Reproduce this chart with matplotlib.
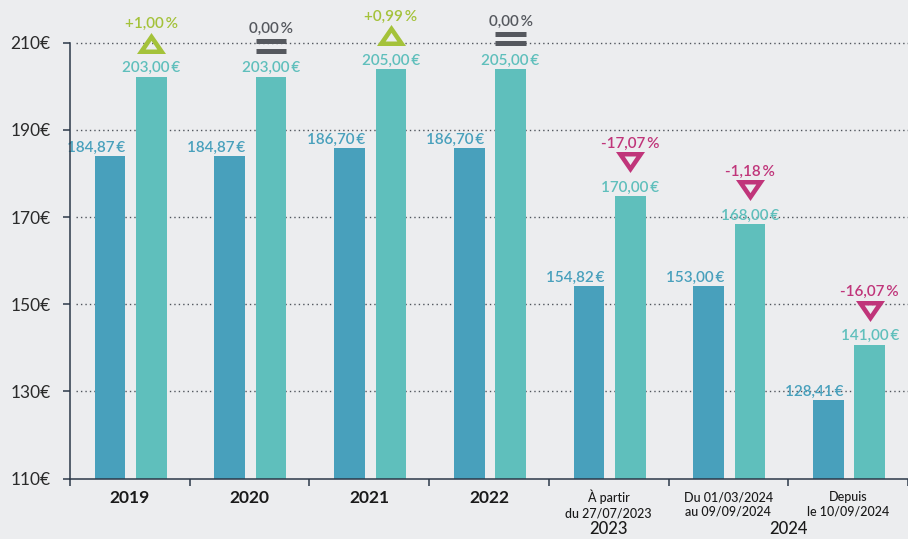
import matplotlib
matplotlib.use('Agg')
import matplotlib.pyplot as plt
from matplotlib.path import Path
from matplotlib.transforms import offset_copy, blended_transform_factory
import numpy as np

# ---------------- data ----------------
group_labels = ['2019', '2020', '2021', '2022',
                'À partir\ndu 27/07/2023', 'Du 01/03/2024\nau 09/09/2024', 'Depuis\nle 10/09/2024']
group_bold = [True, True, True, True, False, False, False]
span_labels = ['2023', '2024']
span_centers = [4.0, 5.5]

dark_values = [184.87, 184.87, 186.70, 186.70, 154.82, 153.00, 128.41]
light_values = [203.00, 203.00, 205.00, 205.00, 170.00, 168.00, 141.00]
# bar heights as drawn in the reference
dark_heights = [184.0, 184.0, 185.8, 185.8, 154.2, 154.2, 128.0]
light_heights = [202.2, 202.2, 204.0, 204.0, 174.8, 168.4, 140.7]
pct_changes = [1.00, 0.00, 0.99, 0.00, -17.07, -1.18, -16.07]

y_ticks = [110, 130, 150, 170, 190, 210]
y_tick_labels = ['110€', '130€', '150€', '170€', '190€', '210€']

# ---------------- style ----------------
BG = '#ecedef'
DARK = '#48a0bc'
LIGHT = '#5fbfbc'
GREEN = '#a4c23a'
MAGENTA = '#c0357a'
GREY = '#55585e'
AXIS = '#2b3848'
FONT = ['Lato', 'DejaVu Sans']

plt.rcParams['font.family'] = FONT

fig = plt.figure(figsize=(9.08, 5.39), dpi=100, facecolor=BG)
ax = fig.add_axes([70 / 908, (539 - 478.7) / 539, 1 - 70 / 908, 478.7 / 539])
ax.set_facecolor(BG)

x = np.arange(len(group_labels))
bw = 31 / 121
dx_dark = -0.5 + 40.5 / 121
dx_light = -0.5 + 82.3 / 121

ax.set_xlim(-0.5, -0.5 + 838 / 121)
ax.set_ylim(110, 210 + 42.7 / 4.36)

# grid lines
for yv in y_ticks[1:]:
    ax.plot([-0.45, 7], [yv, yv], color='#50555d', lw=1.0, ls=(0, (1, 2.2)), zorder=1)

ax.bar(x + dx_dark, dark_heights, width=bw, bottom=0, color=DARK, zorder=2)
ax.bar(x + dx_light, light_heights, width=bw, bottom=0, color=LIGHT, zorder=2)


def fmt(v):
    return f'{v:.2f}'.replace('.', ',') + '\u2009€'


def fmt_pct(p):
    s = f'{abs(p):.2f}'.replace('.', ',') + '\u2009%'
    if p > 0:
        return '+' + s
    if p < 0:
        return '-' + s
    return s


for i in x:
    ax.annotate(fmt(dark_values[i]), (i + dx_dark + bw / 2, dark_heights[i]),
                xytext=(0, 4.5), textcoords='offset pixels', ha='right', va='baseline',
                fontsize=11, color=DARK, fontweight='semibold', zorder=5)
    ax.annotate(fmt(light_values[i]), (i + dx_light, light_heights[i]),
                xytext=(0, 4.5), textcoords='offset pixels', ha='center', va='baseline',
                fontsize=11, color=LIGHT, fontweight='semibold', zorder=5)

# triangle marker paths (with hole)
def tri_path(up=True):
    outer = [(-14.5, -10.5), (14.5, -10.5), (0, 10.5)]
    inner = [(0, 2.6), (5.8, -6.0), (-5.8, -6.0)]
    if not up:
        outer = [(vx, -vy) for vx, vy in outer]
        inner = [(vx, -vy) for vx, vy in inner]
        outer = outer[::-1]
        inner = inner[::-1]
    verts = outer + [outer[0]] + inner + [inner[0]]
    codes = [Path.MOVETO, Path.LINETO, Path.LINETO, Path.CLOSEPOLY] * 2
    return Path(verts, codes)

up_path = tri_path(True)
down_path = tri_path(False)
msize = 29 * 0.72

for i in x:
    p = pct_changes[i]
    xc = i + dx_light
    h = light_heights[i]
    if p == 0:
        col = GREY
        for off in (35.3, 25.8):
            tr = offset_copy(ax.transData, fig=fig, x=0, y=off, units='dots')
            ax.plot([xc - bw / 2, xc + bw / 2], [h, h], color=GREY, lw=5 * 0.72,
                    solid_capstyle='butt', transform=tr, zorder=5, clip_on=False)
        txt_off = 43.5
    else:
        col = GREEN if p > 0 else MAGENTA
        tr = offset_copy(ax.transData, fig=fig, x=0, y=34, units='dots')
        ax.plot([xc], [h], marker=up_path if p > 0 else down_path, markersize=msize,
                color=col, markeredgewidth=0, transform=tr, zorder=5, clip_on=False)
        txt_off = 48.5
    ax.annotate(fmt_pct(p), (xc, h), xytext=(0, txt_off), textcoords='offset pixels',
                ha='center', va='baseline', fontsize=11, color=col, fontweight='semibold',
                zorder=5, annotation_clip=False)

# axes styling
for s in ['top', 'right']:
    ax.spines[s].set_visible(False)
for s in ['left', 'bottom']:
    ax.spines[s].set_color(AXIS)
    ax.spines[s].set_linewidth(1.1)
    ax.spines[s].set_zorder(6)
ax.spines['left'].set_bounds(110, 210)

ax.set_yticks(y_ticks)
ax.set_yticklabels(y_tick_labels)
ax.tick_params(axis='y', direction='out', length=5, width=1.1, color=AXIS, pad=9,
               labelsize=12.5, labelcolor='#2a2a2a')

ax.set_xticks(np.arange(-0.5, 7.0, 1.0))
ax.set_xticklabels([''] * len(np.arange(-0.5, 7.0, 1.0)))
ax.tick_params(axis='x', direction='out', length=5, width=1.1, color=AXIS)

tb = blended_transform_factory(ax.transData, fig.transFigure)
for i, lab in enumerate(group_labels):
    if group_bold[i]:
        ax.text(i, 1 - 498 / 539, lab, transform=tb, ha='center', va='center',
                fontsize=12.5, fontweight='bold', color='#1a1a1a')
    else:
        ax.text(i, 1 - 504.5 / 539, lab, transform=tb, ha='center', va='center',
                fontsize=9, color='#1a1a1a', linespacing=1.3, fontweight='medium')
for c, lab in zip(span_centers, span_labels):
    ax.text(c, 1 - 529 / 539, lab, transform=tb, ha='center', va='center',
            fontsize=12, color='#1a1a1a', fontweight='medium')

fig.savefig('out.png', dpi=100, facecolor=BG)
